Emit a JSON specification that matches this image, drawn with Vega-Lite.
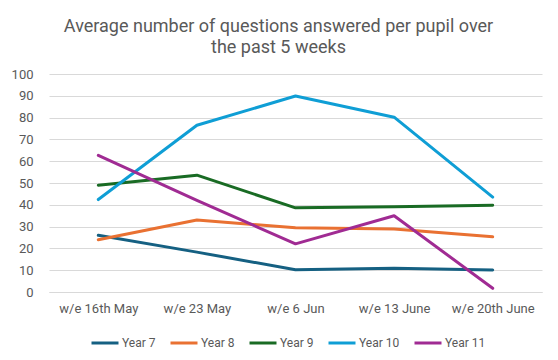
{
  "$schema": "https://vega.github.io/schema/vega-lite/v6.json",
  "width": 493,
  "height": 218,
  "autosize": {"type": "none"},
  "padding": {"left": 49, "top": 74, "right": 16, "bottom": 68},
  "background": "white",
  "title": {
    "text": ["Average number of questions answered per pupil over", "the past 5 weeks"],
    "anchor": "middle",
    "frame": "group",
    "dx": -17,
    "offset": 11,
    "font": "Roboto",
    "fontSize": 18,
    "fontWeight": "normal",
    "color": "#595959",
    "lineHeight": 21
  },
  "data": {
    "values": [
      {"week": "w/e 16th May", "year": "Year 7", "value": 26},
      {"week": "w/e 23 May", "year": "Year 7", "value": 18.3},
      {"week": "w/e 6 Jun", "year": "Year 7", "value": 10.2},
      {"week": "w/e 13 June", "year": "Year 7", "value": 10.9},
      {"week": "w/e 20th June", "year": "Year 7", "value": 10.1},
      {"week": "w/e 16th May", "year": "Year 8", "value": 24},
      {"week": "w/e 23 May", "year": "Year 8", "value": 33},
      {"week": "w/e 6 Jun", "year": "Year 8", "value": 29.5},
      {"week": "w/e 13 June", "year": "Year 8", "value": 28.9},
      {"week": "w/e 20th June", "year": "Year 8", "value": 25.3},
      {"week": "w/e 16th May", "year": "Year 9", "value": 49},
      {"week": "w/e 23 May", "year": "Year 9", "value": 53.6},
      {"week": "w/e 6 Jun", "year": "Year 9", "value": 38.6},
      {"week": "w/e 13 June", "year": "Year 9", "value": 39.1},
      {"week": "w/e 20th June", "year": "Year 9", "value": 39.8},
      {"week": "w/e 16th May", "year": "Year 10", "value": 42.4},
      {"week": "w/e 23 May", "year": "Year 10", "value": 76.5},
      {"week": "w/e 6 Jun", "year": "Year 10", "value": 89.9},
      {"week": "w/e 13 June", "year": "Year 10", "value": 80.2},
      {"week": "w/e 20th June", "year": "Year 10", "value": 43.5},
      {"week": "w/e 16th May", "year": "Year 11", "value": 62.7},
      {"week": "w/e 23 May", "year": "Year 11", "value": 42},
      {"week": "w/e 6 Jun", "year": "Year 11", "value": 22.1},
      {"week": "w/e 13 June", "year": "Year 11", "value": 35},
      {"week": "w/e 20th June", "year": "Year 11", "value": 1.7}
    ]
  },
  "mark": {"type": "line", "strokeWidth": 3, "strokeJoin": "round", "strokeCap": "round"},
  "encoding": {
    "x": {
      "field": "week",
      "type": "ordinal",
      "sort": ["w/e 16th May", "w/e 23 May", "w/e 6 Jun", "w/e 13 June", "w/e 20th June"],
      "scale": {"padding": 0.5},
      "axis": {
        "title": null,
        "labelAngle": 0,
        "ticks": false,
        "domain": true,
        "domainColor": "#d9d9d9",
        "labelPadding": 10,
        "grid": false
      }
    },
    "y": {
      "field": "value",
      "type": "quantitative",
      "scale": {"domain": [0, 100], "nice": false},
      "axis": {
        "title": null,
        "values": [0, 10, 20, 30, 40, 50, 60, 70, 80, 90, 100],
        "ticks": false,
        "domain": false,
        "labelPadding": 16,
        "gridColor": "#d9d9d9",
        "gridWidth": 1
      }
    },
    "color": {
      "field": "year",
      "type": "nominal",
      "sort": ["Year 7", "Year 8", "Year 9", "Year 10", "Year 11"],
      "scale": {
        "domain": ["Year 7", "Year 8", "Year 9", "Year 10", "Year 11"],
        "range": ["#156082", "#E97132", "#196B24", "#0F9ED5", "#A02B93"]
      },
      "legend": {
        "title": null,
        "orient": "none",
        "direction": "horizontal",
        "legendX": 41,
        "legendY": 254,
        "symbolType": "stroke",
        "symbolSize": 729,
        "symbolStrokeWidth": 3,
        "labelOffset": 2,
        "columnPadding": 8,
        "labelFontSize": 12,
        "labelColor": "#595959",
        "labelFont": "Roboto"
      }
    }
  },
  "config": {
    "view": {"stroke": null},
    "axis": {
      "labelFont": "Roboto",
      "labelFontSize": 13,
      "labelColor": "#595959"
    }
  }
}
